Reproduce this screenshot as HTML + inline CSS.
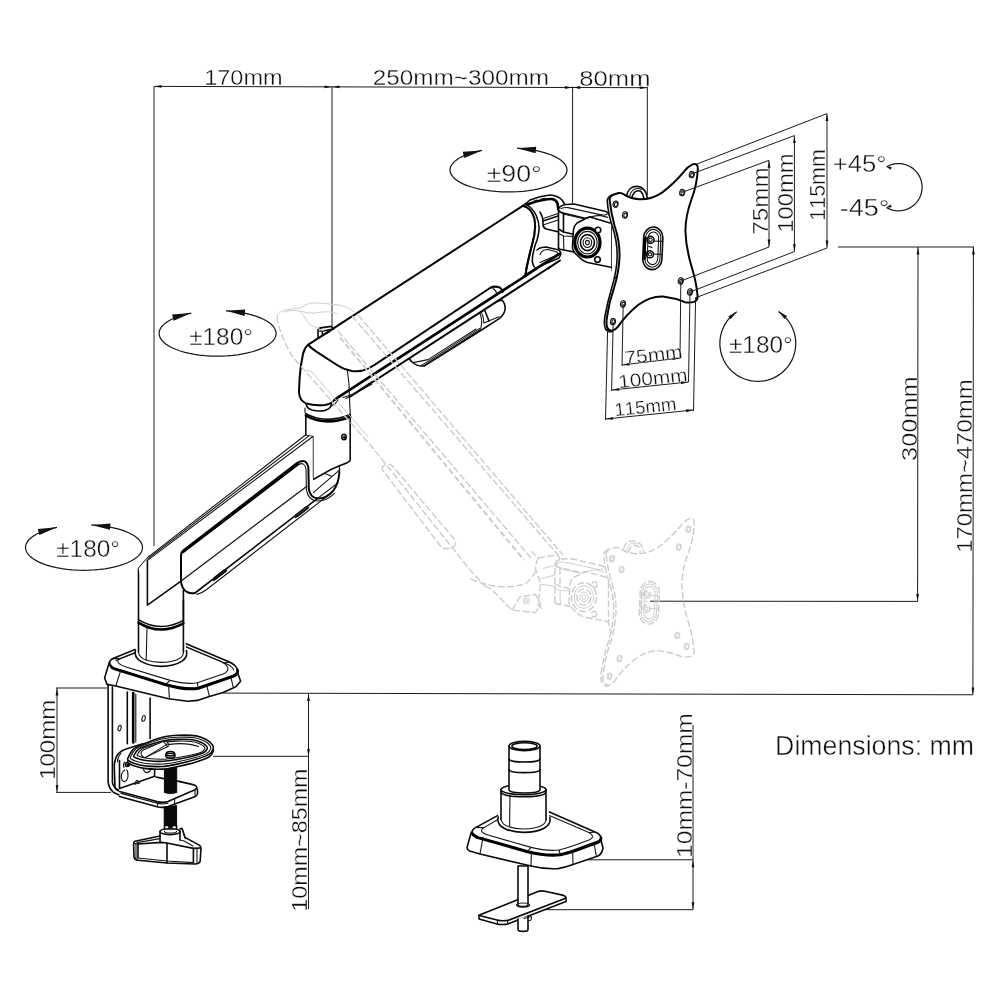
<!DOCTYPE html>
<html><head><meta charset="utf-8"><title>Monitor arm dimensions</title>
<style>
html,body{margin:0;padding:0;background:#fff;}
body{width:1000px;height:1000px;overflow:hidden;font-family:"Liberation Sans",sans-serif;}
svg{display:block;}
.o{fill:none;stroke:#0a0a0a;stroke-width:1.6;stroke-linecap:round;stroke-linejoin:round;}
.of{fill:#fff;stroke:#0a0a0a;stroke-width:1.6;stroke-linecap:round;stroke-linejoin:round;}
.t{fill:none;stroke:#151515;stroke-width:1.1;stroke-linecap:round;stroke-linejoin:round;}
.tf{fill:#fff;stroke:#151515;stroke-width:1.1;stroke-linecap:round;stroke-linejoin:round;}
.a{fill:none;stroke:#050505;stroke-width:2.0;stroke-linecap:round;stroke-linejoin:round;}
.af{fill:#fff;stroke:#050505;stroke-width:2.0;stroke-linecap:round;stroke-linejoin:round;}
.k{fill:none;stroke:#000;stroke-width:2.6;stroke-linecap:round;stroke-linejoin:round;}
.d{fill:none;stroke:#1c1c1c;stroke-width:1;}
.r{fill:none;stroke:#1a1a1a;stroke-width:1.25;}
.ah{fill:#111;stroke:none;}
.g{fill:none;stroke:#cccccc;stroke-width:1.4;stroke-dasharray:7 2.4;stroke-linecap:butt;stroke-linejoin:round;}
.gs{fill:none;stroke:#cfcfcf;stroke-width:1;stroke-linejoin:round;}
.tx{font-family:"Liberation Sans",sans-serif;fill:#111;stroke:#fff;font-kerning:none;white-space:pre;}
.f{fill:#fff;stroke:none;}
.bk{fill:#0a0a0a;stroke:#0a0a0a;stroke-width:1;}
</style></head><body>
<svg width="1000" height="1000" viewBox="0 0 1000 1000" style="will-change:transform">
<rect width="1000" height="1000" fill="#fff"/>
<path class="d" d="M154 86.4L647.3 87.7"/>
<path class="d" d="M154 86.5L154 546"/>
<path class="d" d="M332 86.5L332 326"/>
<path class="d" d="M572.6 86.5L572.6 203"/>
<path class="d" d="M647.3 86.5L647.3 195"/>
<path class="ah" d="M154.50 86.40L161.50 85.00L161.50 87.80Z"/>
<path class="ah" d="M331.50 86.90L324.50 88.30L324.50 85.50Z"/>
<path class="ah" d="M332.50 86.90L339.50 85.50L339.50 88.30Z"/>
<path class="ah" d="M572.00 87.50L565.00 88.90L565.00 86.10Z"/>
<path class="ah" d="M573.20 87.50L580.20 86.10L580.20 88.90Z"/>
<path class="ah" d="M646.80 87.70L639.80 89.10L639.80 86.30Z"/>
<text class="tx" transform="translate(206 85)" x="-1.790" y="0" font-size="21.3" textLength="78.338" lengthAdjust="spacingAndGlyphs" style="stroke-width:0.34">170mm</text>
<text class="tx" transform="translate(374 85.4)" x="-1.223" y="0" font-size="21.3" textLength="176.325" lengthAdjust="spacingAndGlyphs" style="stroke-width:0.34">250mm~300mm</text>
<text class="tx" transform="translate(580.4 85.8)" x="-1.114" y="0" font-size="21.3" textLength="71.203" lengthAdjust="spacingAndGlyphs" style="stroke-width:0.34">80mm</text>
<path class="d" d="M838 247L974 247"/>
<path class="d" d="M918 247L917.6 601.4"/>
<path class="d" d="M973.4 247L972.9 694.8"/>
<path class="d" d="M650 601.2L917.6 601.4"/>
<path class="d" d="M223 693.1L972.9 694.8"/>
<path class="ah" d="M918.00 247.50L919.40 254.50L916.60 254.50Z"/>
<path class="ah" d="M917.60 601.00L916.20 594.00L919.00 594.00Z"/>
<path class="ah" d="M973.40 247.50L974.80 254.50L972.00 254.50Z"/>
<path class="ah" d="M972.90 694.40L971.50 687.40L974.30 687.40Z"/>
<text class="tx" transform="translate(917 460) rotate(-90)" x="-0.967" y="0" font-size="21.3" textLength="84.640" lengthAdjust="spacingAndGlyphs" style="stroke-width:0.34">300mm</text>
<text class="tx" transform="translate(972 551) rotate(-90)" x="-1.821" y="0" font-size="21.3" textLength="173.397" lengthAdjust="spacingAndGlyphs" style="stroke-width:0.34">170mm~470mm</text>
<path class="d" d="M56 688L107 688"/>
<path class="d" d="M56 792.4L111 792.4"/>
<path class="d" d="M57 688L57 792.4"/>
<path class="ah" d="M57.00 688.50L58.40 695.50L55.60 695.50Z"/>
<path class="ah" d="M57.00 792.00L55.60 785.00L58.40 785.00Z"/>
<text class="tx" transform="translate(54.6 778) rotate(-90)" x="-1.825" y="0" font-size="21.3" textLength="79.905" lengthAdjust="spacingAndGlyphs" style="stroke-width:0.34">100mm</text>
<path class="d" d="M308.5 693.5L308.5 909"/>
<path class="d" d="M213 756.3L308.5 756.3"/>
<path class="ah" d="M308.50 694.00L309.90 701.00L307.10 701.00Z"/>
<path class="ah" d="M308.50 756.00L307.10 749.00L309.90 749.00Z"/>
<text class="tx" transform="translate(307 910) rotate(-90)" x="-1.778" y="0" font-size="21.3" textLength="143.316" lengthAdjust="spacingAndGlyphs" style="stroke-width:0.34">10mm~85mm</text>
<path class="d" d="M693 725L693 909.7"/>
<path class="d" d="M587 859.8L693 859.8"/>
<path class="d" d="M546 909.7L693 909.7"/>
<path class="ah" d="M693.00 860.30L694.40 867.30L691.60 867.30Z"/>
<path class="ah" d="M693.00 909.30L691.60 902.30L694.40 902.30Z"/>
<text class="tx" transform="translate(691.5 856) rotate(-90)" x="-1.869" y="0" font-size="21.3" textLength="144.486" lengthAdjust="spacingAndGlyphs" style="stroke-width:0.34">10mm-70mm</text>
<text class="tx" transform="translate(777.3 755.2)" x="-2.192" y="0" font-size="27.2" textLength="198.953" lengthAdjust="spacingAndGlyphs" style="stroke-width:0.44">Dimensions: mm</text>
<path class="r" d="M517.00 148.23L522.42 148.63L527.72 149.22L532.84 150.00L537.75 150.95L542.40 152.07L546.74 153.35L550.75 154.78L554.38 156.35L557.60 158.04L560.38 159.83L562.70 161.72L564.53 163.68L565.87 165.69L566.69 167.75L567.00 169.82L566.78 171.90L566.05 173.95L564.80 175.98L563.05 177.95L560.81 179.85L558.11 181.66L554.96 183.37L551.40 184.96L547.46 186.41L543.17 187.72L538.58 188.87L533.71 189.85L528.62 190.66L523.35 191.28L517.94 191.71L512.46 191.95L506.93 191.99L501.43 191.84L495.98 191.49L490.65 190.95L485.47 190.22L480.50 189.32L475.78 188.24L471.36 187.00L467.26 185.60L463.53 184.07L460.20 182.41L457.30 180.64L454.86 178.78L452.90 176.84L451.43 174.84L450.47 172.79L450.03 170.72L450.11 168.64L450.71 166.58L451.83 164.54L453.45 162.56L455.56 160.64L458.14 158.80L461.18 157.07L464.63 155.45L468.48 153.96L472.68 152.61L477.20 151.41L482.00 150.39" />
<path class="ah" d="M482.00 150.39L464.30 157.99L462.78 151.77Z"/>
<path class="ah" d="M517.00 148.23L536.22 146.87L535.61 153.24Z"/>
<text class="tx" transform="translate(487.5 182.4)" x="-0.849" y="0" font-size="24.2" textLength="55.157" lengthAdjust="spacingAndGlyphs" style="stroke-width:0.39">±90°</text>
<path class="r" d="M226.00 310.84L231.43 311.25L236.73 311.85L241.87 312.65L246.78 313.64L251.44 314.80L255.79 316.13L259.81 317.61L263.44 319.24L266.67 320.99L269.46 322.85L271.78 324.80L273.62 326.83L274.96 328.92L275.79 331.05L276.10 333.21L275.88 335.36L275.15 337.50L273.90 339.59L272.15 341.64L269.91 343.61L267.20 345.49L264.05 347.26L260.49 348.91L256.54 350.41L252.25 351.77L247.64 352.96L242.77 353.98L237.67 354.82L232.39 355.46L226.98 355.90L221.49 356.15L215.96 356.19L210.45 356.03L205.00 355.66L199.66 355.10L194.49 354.34L189.52 353.40L184.80 352.28L180.37 350.99L176.28 349.54L172.55 347.95L169.23 346.22L166.34 344.39L163.91 342.45L161.95 340.44L160.50 338.36L159.55 336.23L159.13 334.09L159.22 331.93L159.84 329.79L160.97 327.68L162.61 325.62L164.74 323.63L167.34 321.73L170.39 319.93L173.86 318.26L177.73 316.72L181.95 315.32L186.48 314.09L191.30 313.03" />
<path class="ah" d="M191.30 313.03L173.65 320.75L172.09 314.54Z"/>
<path class="ah" d="M226.00 310.84L245.22 309.52L244.59 315.89Z"/>
<text class="tx" transform="translate(189.9 345.1)" x="-0.774" y="0" font-size="24.5" textLength="63.839" lengthAdjust="spacingAndGlyphs" style="stroke-width:0.39">±180°</text>
<path class="r" d="M91.30 524.88L96.75 525.25L102.09 525.82L107.27 526.58L112.23 527.53L116.95 528.66L121.37 529.96L125.46 531.41L129.17 533.01L132.48 534.74L135.36 536.58L137.78 538.52L139.71 540.54L141.15 542.63L142.07 544.75L142.48 546.91L142.36 549.06L141.72 551.20L140.57 553.31L138.90 555.37L136.75 557.36L134.12 559.26L131.05 561.05L127.55 562.72L123.67 564.26L119.43 565.64L114.87 566.87L110.04 567.92L104.97 568.79L99.71 569.46L94.32 569.94L88.83 570.22L83.30 570.30L77.78 570.17L72.31 569.84L66.94 569.31L61.73 568.58L56.72 567.67L51.95 566.57L47.47 565.31L43.31 563.88L39.52 562.31L36.13 560.61L33.17 558.79L30.66 556.86L28.63 554.86L27.09 552.78L26.07 550.66L25.56 548.52L25.57 546.36L26.11 544.21L27.17 542.10L28.73 540.03L30.79 538.02L33.33 536.11L36.32 534.29L39.73 532.59L43.54 531.03L47.72 529.61L52.22 528.36L57.00 527.27" />
<path class="ah" d="M57.00 527.27L39.40 535.12L37.80 528.92Z"/>
<path class="ah" d="M91.30 524.88L110.51 523.42L109.93 529.79Z"/>
<text class="tx" transform="translate(57 556.9)" x="-0.774" y="0" font-size="24.5" textLength="63.839" lengthAdjust="spacingAndGlyphs" style="stroke-width:0.39">±180°</text>
<path class="r" d="M778.47 311.57L781.11 313.45L783.57 315.54L785.85 317.84L787.93 320.33L789.79 322.98L791.41 325.78L792.79 328.70L793.91 331.74L794.78 334.86L795.37 338.04L795.69 341.26L795.73 344.50L795.50 347.73L795.00 350.92L794.22 354.07L793.18 357.13L791.88 360.10L790.33 362.94L788.55 365.64L786.54 368.18L784.33 370.54L781.92 372.70L779.33 374.65L776.59 376.37L773.71 377.85L770.72 379.08L767.63 380.05L764.47 380.76L761.26 381.19L758.03 381.35L754.80 381.23L751.58 380.84L748.42 380.17L745.32 379.24L742.31 378.04L739.41 376.60L736.65 374.91L734.04 372.99L731.61 370.86L729.36 368.53L727.32 366.02L725.51 363.34L723.93 360.51L722.59 357.56L721.51 354.51L720.70 351.38L720.15 348.19L719.88 344.96L719.89 341.73L720.17 338.50L720.72 335.31L721.55 332.18L722.63 329.13L723.98 326.19L725.57 323.37L727.39 320.70L729.44 318.19L731.69 315.86L734.13 313.74L736.74 311.83" />
<path class="ah" d="M736.74 311.83L730.65 319.36L728.22 316.43Z"/>
<path class="ah" d="M778.47 311.57L787.05 316.07L784.66 319.03Z"/>
<text class="tx" transform="translate(729.75 352.75)" x="-0.774" y="0" font-size="24" textLength="63.839" lengthAdjust="spacingAndGlyphs" style="stroke-width:0.38">±180°</text>
<path class="r" d="M886.70 166.76L888.15 165.99L889.66 165.32L891.21 164.76L892.79 164.30L894.40 163.96L896.03 163.73L897.68 163.61L899.32 163.61L900.97 163.73L902.60 163.96L904.21 164.30L905.79 164.76L907.34 165.32L908.85 165.99L910.30 166.76L911.70 167.63L913.03 168.60L914.29 169.66L915.48 170.81L916.58 172.03L917.59 173.33L918.51 174.69L919.34 176.12L920.06 177.60L920.68 179.13L921.19 180.69L921.58 182.29L921.87 183.92L922.04 185.55L922.10 187.20L922.04 188.85L921.87 190.48L921.58 192.11L921.19 193.71L920.68 195.27L920.06 196.80L919.34 198.28L918.51 199.71L917.59 201.07L916.58 202.37L915.48 203.59L914.29 204.74L913.03 205.80L911.70 206.77L910.30 207.64L908.85 208.41L907.34 209.08L905.79 209.64L904.21 210.10L902.60 210.44L900.97 210.67L899.32 210.79L897.68 210.79L896.03 210.67L894.40 210.44L892.79 210.10L891.21 209.64L889.66 209.08L888.15 208.41L886.70 207.64" />
<path class="ah" d="M886.00 166.50L891.68 166.97L890.66 169.79Z"/>
<path class="ah" d="M886.00 207.70L890.66 204.41L891.68 207.23Z"/>
<text class="tx" transform="translate(834 172)" x="-1.253" y="0" font-size="23.5" textLength="53.794" lengthAdjust="spacingAndGlyphs" style="stroke-width:0.38">+45°</text>
<text class="tx" transform="translate(841 215.5)" x="-1.200" y="0" font-size="23.5" textLength="49.821" lengthAdjust="spacingAndGlyphs" style="stroke-width:0.38">-45°</text>
<path class="of" d="M109.4 662 L104.6 678 L107 684.4 L115.8 686 L168.6 698.8 L187.8 701.2 L197.4 700.4 L209.4 696.4 L223 692.4 L235.8 686.8 L240.6 681.2 L237.4 672 Z" />
<path class="of" d="M137.4 648.4 L113 658.6 Q108.6 660.6 110 664.6 Q111 667 114 668 L166 684 Q186 689.6 198 687.6 L233 675.4 Q238.6 673.4 237 668.6 Q235.6 665 229.4 662 L183.8 642.8" />
<path class="k" d="M110.4 665.6 Q111.4 668 114.6 669 L166 684.9 Q186 690.5 198.4 688.5 L233.6 676.3 Q238.4 674.4 237.6 670" />
<path class="t" d="M186 647 L228 664.6 Q233 667.4 233.6 670" />
<path class="t" d="M135 653 L116 660.6" />
<path class="t" d="M135 652.4 L120 658.6 Q116.4 660.2 118.6 663 Q120 664.8 125.4 666.8 L170.2 680.4 Q186 684.6 197.4 682.8 L223 674 Q228.6 671.8 227.8 667.6 Q226.6 664 221 661.4 L184.6 646" />
<path class="t" d="M120.6 670.8 L115.8 686" />
<path class="t" d="M168.6 685.2 L169.4 698.8" />
<path class="t" d="M207 686.4 L209.4 696.4" />
<path class="t" d="M231 678 L233.4 687.6" />
<path class="t" d="M113 658.6 L120 658.6" />
<path class="t" d="M229.4 662 L223 663" />
<path class="t" d="M198 687.6 L197.4 682.8" />
<path class="t" d="M166 684 L170.2 680.4" />
<path class="f" d="M135 651 Q134 657 141 661 Q150 666.4 161 666.4 Q174 666.4 182 661 Q187.6 657 186.4 651 L183.4 620 L138.4 620 Z" />
<path class="o" d="M135.4 650 Q133.6 657 141 661.4 Q150 666.4 161 666.4 Q174 666.4 182 661.2 Q188 657 186.4 650.6" />
<path class="t" d="M138.4 652 Q139 657.4 146 660 Q153 662.4 161 662.4 Q172 662.4 178.6 659 Q183.6 656.4 183.4 652" />
<path class="f" d="M138.5 652 L138.5 569 L149 556.4 L184 556 L183.6 652 Z" />
<path class="o" d="M138.5 652 L138.5 568.6 L149 556.4" />
<path class="o" d="M183.4 652 L183.4 590" />
<path class="t" d="M147 628 L146.2 660" />
<path class="o" d="M138.5 619.6 Q160 633 183.4 620.4" />
<path class="k" d="M138.5 622.6 Q160 636 183.4 623.4" />
<path class="f" d="M149 556.4 L305.8 434.8 L313.6 436 L313.6 480 L184 600 L147.4 605.2 L138.5 568.6 Z" />
<path class="t" d="M149 556.4 L305.8 434.8" />
<path class="t" d="M148.2 558.4 L309.6 435.4" />
<path class="t" d="M147.4 560.4 L313.6 436" />
<path class="o" d="M305.8 434.8 L313.6 436 L313.6 478" />
<path class="o" d="M147.4 560.4 L147.4 605.2 L181 581.2" />
<path class="f" d="M182.6 550.8 L298 462.4 Q306 458 308.2 468 L308.8 488.8 Q310 498 318 498.4 L195 593 Q191 594 187 592 Q181.6 589 181 581 L181 556 Q181 552 182.6 550.8Z" />
<path class="a" d="M181 581 L181 556 Q181 552 183.4 550.2 L297.6 462.6 Q306.4 457.6 308.4 467.6 L308.8 488.8 Q310 497.6 317.6 498.4 Q326 499 333 491 Q338.6 484 339.4 472" />
<path class="t" d="M183.4 552.6 L298.6 464.6 Q304.6 461.4 306 469 L306.4 489.6 Q308 500.4 317.6 501 Q327 501 334.4 493.4" />
<path class="k" d="M182.6 552.2 L298.4 464" style="stroke-width:2.1"/>
<path class="a" d="M181 581 Q181.6 589 187 592 Q191 594 195 593" />
<path class="o" d="M195 593 L317.6 498.4" />
<path class="t" d="M180.8 581.2 L306.6 486.4" style="stroke-width:1.3"/>
<path class="t" d="M197 594.4 Q202 593 206 590 L332 492.4" />
<path class="t" d="M214 577.6 L224 570 L225.6 571.6 L215.6 579.4Z" />
<path class="t" d="M296 514.6 L306 507 L307.6 508.6 L297.6 516.4Z" />
<path class="o" d="M213.6 580.4 L226.4 570.6" />
<path class="o" d="M295.6 517.4 L308.4 507.6" />
<path class="o" d="M183.4 622 L183.4 590.6" />
<path class="t" d="M313.6 492.4 L340 469.6" />
<path class="t" d="M317.6 498.4 L338.2 482.8" />
<path class="f" d="M305.8 434.8 L305.8 414 L350.2 414 L350.2 460 Q349 463 340 465.4 L324.4 473.2 L313.6 479.2 L313.6 436 Z" />
<path class="o" d="M305.8 434.8 L305.8 414" />
<path class="o" d="M350.2 414 L350.2 460 Q349.4 462.6 340 465.4 Q331 469 324.4 473.2 L313.6 479.2" />
<path class="t" d="M339.4 465.6 L339.4 472" />
<path class="t" d="M324.4 473.2 L331.6 476.2" />
<ellipse cx="344" cy="437" rx="2.2" ry="2.8" class="o"/>
<ellipse cx="344.4" cy="437.4" rx="0.9" ry="1.2" class="bk"/>
<path class="o" d="M305.8 413.6 Q326 424.4 350.2 414.6" />
<path class="k" d="M305.8 415.6 Q326 426.6 350.2 416.8" />
<path class="o" d="M306.4 404 Q306 408 312 410 Q318 411.6 324 410.6 Q331 409 331.4 404" />
<path class="t" d="M305 408 Q304.6 413 305.8 414" />
<path class="t" d="M331.4 406 Q336 404 338 400" />
<path class="of" d="M408.2 354.6 Q408.6 359 412 362 Q417 366.6 424 366 L479.6 331.2 L499.2 318.6 Q505 314 505.2 308 Q505 303 502 300 L470 310 Z" />
<path class="t" d="M413 362.6 L428 359.6 L476 329" />
<path class="t" d="M424 366 L430 361.6 L478 331.4" />
<path class="t" d="M427 364.4 L479.6 330" />
<path class="t" d="M421 365.6 L429.2 360.6 L479.6 328.4" />
<path class="t" d="M477 308 Q481.6 315 481.8 322 Q481.6 327 479.6 331" />
<path class="t" d="M479.4 309 Q484 316 483.8 323 L499 316.8" />
<path class="o" d="M484.6 310 L489 321" />
<path class="f" d="M308 344.8 L522.8 205.8 Q532 207 535 222 Q536 236 531 250 L526.4 272.4 L550 260 L550 267 L349.6 397 L335 399.6 Q331 404.6 324 405.4 L308 404 Q299.6 401 299 392 L300 376 Q301 356 304 350 Z" />
<path class="a" d="M522.8 205.8 L308 344.8 Q304.4 348 303 354 Q300.4 366 299.6 378 L299 392 Q299.4 400.6 306 403.4 Q314 406 325 405 Q331.6 404 335 399.4" />
<path class="a" d="M308 344.8 Q311 348 316 351.4 L337 365 Q344 369.6 352 371 Q361 372 368 368.6 L375 364.6 L490 288 Q494.6 285.6 499.6 287.4 Q502 289 502.6 292" />
<path class="t" d="M493 288.4 Q496 290 497.4 294.6" />
<path class="t" d="M347.4 371 Q349.6 384 349.4 396 L350.2 414" />
<path class="k" d="M335 399.3 L550 260" />
<path class="a" d="M349.6 397 L550 267" />
<path class="t" d="M343 397.6 L352 394.6 L372 381.4" />
<path class="t" d="M346 398.6 L372 384" />
<path class="o" d="M318 337.8 L318 330 Q318.6 328 322 327.6 L331.6 326.4 L333.6 329.2" />
<path class="o" d="M322.4 335 L322.4 331 L332.4 329.4" />
<path class="t" d="M319.6 331.4 L323 330.4 M326 334 L330 331.6" />
<path class="a" d="M522.8 205.8 Q531 207.6 534.4 218.4 Q536.6 230 532.4 243.6 Q529 256 526.4 268.8 L525.4 276" />
<path class="t" d="M526.4 204 Q536 206.6 539.6 219.6 Q541.6 231 537.2 240 Q535 248 535.4 256.8" />
<path class="f" d="M522.8 205.8 L530 200 Q540 196.4 550 195 Q557 195.4 562 200 L565 205 L565.8 256 L526 276 Q533 250 535 232 Q535 212 522.8 205.8Z" />
<path class="o" d="M522.8 205.8 L530 200 Q540 196.2 550 195 Q557.6 195.4 562 200 L564.5 204" />
<path class="k" d="M526.4 204.6 L530 203.5 Q537 201 543 200 Q548 198.8 552 199 Q556.4 200 557.6 203.6 L558.2 209" />
<path class="a" d="M522.8 205.8 Q531 207.6 534.4 218.4 Q536.6 230 532.4 243.6 Q529 256 526.4 268.8 L525.4 276" />
<path class="t" d="M533.6 201.2 L537 200 M540.4 199.2 L545 198.2" />
<path class="o" d="M526.4 204.6 Q532 207.4 536 215 Q539.6 222.6 539 230 Q538.4 236 537 240 Q534.6 246 533.4 252 Q532 258 532.4 262 L533.6 266" />
<path class="o" d="M540 212 Q542.6 216 543 221 L543 225 Q543.6 228.2 546.4 229 L559 232" />
<path class="k" d="M524 276.4 L559.4 253.8" />
<path class="a" d="M548 268.3 L560 260.5" />
<path class="o" d="M543 221 L558 216" />
<path class="t" d="M543.2 218.6 L558 213.6" />
<path class="t" d="M543 225 L558 220" />
<path class="o" d="M537 250 Q539.6 247.8 542 247.5 L546 247 L559 250 Q561.4 252.6 560.5 255 L559 258 L539 266.4" />
<path class="t" d="M540 254.4 Q541.6 251 544 250 L548 249.5 L557 252 Q558 253.6 557 255 L540 262.4" />
<path class="t" d="M533.6 266 L537 269.6" />
<path class="f" d="M558.5 210 Q559 207.4 560.4 206.4 L566 204.5 L574 204 L606 211.5 L614 216 L614 268 L584 261 L574 252 L560 249 L558.5 248 Z" />
<path class="o" d="M558.5 248.6 L558.5 210 Q558.8 207.6 560.4 206.4 Q563 204.8 566 204.5 L574 204 L606 211.5 Q608.4 212.6 608.4 214.6" />
<path class="o" d="M558.6 210.4 Q559.4 212.4 563 213 L586 218.5 L590 217" />
<path class="t" d="M561 208.6 Q564 207.4 568 207.6 L600 214.6 Q604 215.6 606.6 214.4" />
<path class="t" d="M563 214 L584 218.8" />
<path class="t" d="M590 217 Q596 215.4 600 215.4 L607.6 217.4" />
<path class="o" d="M563.5 213.5 L563.5 232" />
<path class="o" d="M558.5 229 L563.5 232 L572.4 234" />
<path class="t" d="M558.5 233.6 L563.5 236 L572.4 236.4" />
<path class="o" d="M558.6 248 Q559 249.2 560 249.2 L574 252" />
<path class="t" d="M563.5 236 L563.8 249.6" />
<path class="o" d="M610 223 L590 217 Q587 216.8 584 219.5 L577 223 Q574 225.6 573.4 230 L572.5 247 Q572.6 251.6 577 255 Q580 258.4 584 261 Q586.4 262.4 590 263 L612 267.5" />
<ellipse cx="587.4" cy="242.6" rx="12.6" ry="14.4" class="k" style="fill:#fff;stroke-width:3.2"/>
<ellipse cx="587.4" cy="242.6" rx="9.8" ry="11.2" class="t"/>
<ellipse cx="587.4" cy="242.6" rx="7" ry="8" class="o"/>
<ellipse cx="587.4" cy="242.6" rx="4.3" ry="4.9" class="t"/>
<ellipse cx="587.4" cy="242.6" rx="1.9" ry="2.2" class="t"/>
<circle cx="598" cy="230" r="2.8" class="of"/>
<circle cx="597.5" cy="259.6" r="2.8" class="of"/>
<path class="o" d="M612 227 L612 268 L613.5 276 L616 278" />
<path class="o" d="M627 194.6 Q628 189.6 632 187.4 Q636.6 185.4 641 187.2 Q645.6 190 646.6 195 L647.4 198.4" />
<path class="o" d="M631.8 198.2 Q632.6 193.6 635.4 191.6 Q638.6 189.8 641 191.6 Q643.4 194 643.8 198.4" />
<path class="t" d="M629.6 196.6 Q630.6 191.6 634 189.4 Q638 187.6 641.4 189.4" />
<g id="plateg">
<path class="of" d="M612 195 Q608.2 196.4 607.2 200 Q608 214 612.6 227 Q617.2 241 617.2 256 Q616.8 271 612 287 Q607.4 302 604.8 317 Q603.6 325 605.6 329 Q607.8 332.4 612 331.6" />
<path class="af" d="M609.6 199.6 Q609.8 196.4 612.4 195 L618.8 193 Q621.6 192.6 624 194.4 Q630 198.6 639 199.2 Q652 199.6 662 192.6 Q674 183.6 684 171.6 Q688 166.4 692 164.6 Q694.6 163.6 696.6 164.6 Q698 165.6 697.8 169 Q697 185 691.6 199 Q685.4 216 685.4 231 Q685.8 247 691.4 266 Q696.4 282 697.6 296 Q697.8 300 694.6 301.6 Q690 303.2 685 302.2 Q674 297.6 663 296.4 Q650 296 638 305 Q626 315 618 326.6 Q615.6 329.6 612.6 330.6 Q609 331 607.4 328 Q605.8 324 607 317 Q609 302 614 288 Q619 272 619.6 256 Q619.6 240 614.6 226 Q611 213 609.6 199.6Z" />
<ellipse cx="615.6" cy="204.2" rx="2.5" ry="3.2" class="t" transform="rotate(12 615.6 204.2)"/>
<ellipse cx="616.0" cy="204.39999999999998" rx="1.5" ry="2.1" class="t" transform="rotate(12 615.6 204.2)"/>
<ellipse cx="625.0" cy="215" rx="2.5" ry="3.2" class="t" transform="rotate(12 625.0 215)"/>
<ellipse cx="625.4" cy="215.2" rx="1.5" ry="2.1" class="t" transform="rotate(12 625.0 215)"/>
<ellipse cx="691.8" cy="174.6" rx="2.5" ry="3.2" class="t" transform="rotate(12 691.8 174.6)"/>
<ellipse cx="692.1999999999999" cy="174.79999999999998" rx="1.5" ry="2.1" class="t" transform="rotate(12 691.8 174.6)"/>
<ellipse cx="682.2" cy="192.6" rx="2.5" ry="3.2" class="t" transform="rotate(12 682.2 192.6)"/>
<ellipse cx="682.6" cy="192.79999999999998" rx="1.5" ry="2.1" class="t" transform="rotate(12 682.2 192.6)"/>
<ellipse cx="680.8" cy="281" rx="2.5" ry="3.2" class="t" transform="rotate(12 680.8 281)"/>
<ellipse cx="681.1999999999999" cy="281.2" rx="1.5" ry="2.1" class="t" transform="rotate(12 680.8 281)"/>
<ellipse cx="690" cy="292" rx="2.5" ry="3.2" class="t" transform="rotate(12 690 292)"/>
<ellipse cx="690.4" cy="292.2" rx="1.5" ry="2.1" class="t" transform="rotate(12 690 292)"/>
<ellipse cx="623" cy="304" rx="2.5" ry="3.2" class="t" transform="rotate(12 623 304)"/>
<ellipse cx="623.4" cy="304.2" rx="1.5" ry="2.1" class="t" transform="rotate(12 623 304)"/>
<ellipse cx="613" cy="321.6" rx="2.5" ry="3.2" class="t" transform="rotate(12 613 321.6)"/>
<ellipse cx="613.4" cy="321.8" rx="1.5" ry="2.1" class="t" transform="rotate(12 613 321.6)"/>
<g transform="rotate(2.5 652.8 248.3)">
<rect x="643.2" y="227" width="19.2" height="42.6" rx="9.6" ry="10.6" class="o"/>
<rect x="645.2" y="229.4" width="15.2" height="37.8" rx="7.6" ry="8.6" class="t"/>
<rect x="647.6" y="232" width="10.6" height="32.6" rx="5.3" ry="6.3" class="t"/>
<path class="k" d="M645 238 Q644.2 248 645 259"/>
<circle cx="650.2" cy="240" r="3.5" class="o"/><circle cx="650.2" cy="240" r="1.7" class="t"/>
<circle cx="650.2" cy="254.4" r="3.5" class="o"/><circle cx="650.2" cy="254.4" r="1.7" class="t"/>
<path class="t" d="M653.6 241 L661.6 241 M653.6 254 L661.6 254 M648.6 246.6 L652 247.4"/>
</g>
</g>
<path class="d" d="M697 164L827 113.6"/>
<path class="d" d="M695 298L827 248"/>
<path class="d" d="M827 113.6L827 248"/>
<path class="d" d="M691.6 174L794.4 135.6"/>
<path class="d" d="M690 292L794.4 251.6"/>
<path class="d" d="M794.4 135.6L794.4 251.6"/>
<path class="d" d="M682 192.4L769 160.4"/>
<path class="d" d="M681 281L769 247"/>
<path class="d" d="M769 160.4L769 247"/>
<path class="ah" d="M827.00 114.00L828.40 121.00L825.60 121.00Z"/>
<path class="ah" d="M827.00 247.60L825.60 240.60L828.40 240.60Z"/>
<path class="ah" d="M794.40 136.00L795.80 143.00L793.00 143.00Z"/>
<path class="ah" d="M794.40 251.20L793.00 244.20L795.80 244.20Z"/>
<path class="ah" d="M769.00 160.80L770.40 167.80L767.60 167.80Z"/>
<path class="ah" d="M769.00 246.60L767.60 239.60L770.40 239.60Z"/>
<text class="tx" transform="translate(767.6 233.4) rotate(-90)" x="-1.241" y="0" font-size="21.6" textLength="67.236" lengthAdjust="spacingAndGlyphs" style="stroke-width:0.35">75mm</text>
<text class="tx" transform="translate(793.1 231) rotate(-90)" x="-1.813" y="0" font-size="21.6" textLength="79.383" lengthAdjust="spacingAndGlyphs" style="stroke-width:0.35">100mm</text>
<text class="tx" transform="translate(825.4 219) rotate(-90)" x="-1.632" y="0" font-size="21.6" textLength="71.444" lengthAdjust="spacingAndGlyphs" style="stroke-width:0.35">115mm</text>
<path class="d" d="M607.6 330L605.5 420"/>
<path class="d" d="M695.6 298L693.5 411"/>
<path class="d" d="M605.5 419L693.5 410"/>
<path class="d" d="M613.2 322L611.6 391"/>
<path class="d" d="M690 292L688.5 382"/>
<path class="d" d="M611.6 390L688.5 382"/>
<path class="d" d="M623.2 304L622 366"/>
<path class="d" d="M680.8 281L680 358.5"/>
<path class="d" d="M622 365L680 358"/>
<path class="ah" d="M605.80 419.00L605.65 417.41L605.97 420.59Z"/>
<path class="ah" d="M605.90 419.00L612.72 416.90L613.01 419.69Z"/>
<path class="ah" d="M693.10 410.05L686.28 412.15L685.99 409.36Z"/>
<path class="ah" d="M612.00 390.00L618.82 387.89L619.11 390.67Z"/>
<path class="ah" d="M688.10 382.05L681.28 384.16L680.99 381.38Z"/>
<path class="ah" d="M622.40 365.00L629.18 362.76L629.52 365.54Z"/>
<path class="ah" d="M679.60 358.05L672.82 360.29L672.48 357.51Z"/>
<text class="tx" transform="translate(626.4 364.2) rotate(-6.5)" x="-1.069" y="0" font-size="18.5" textLength="57.944" lengthAdjust="spacingAndGlyphs" style="stroke-width:0.3">75mm</text>
<text class="tx" transform="translate(620.6 388.2) rotate(-6.2)" x="-1.587" y="0" font-size="18.5" textLength="69.460" lengthAdjust="spacingAndGlyphs" style="stroke-width:0.3">100mm</text>
<text class="tx" transform="translate(616.6 416.2) rotate(-6)" x="-1.420" y="0" font-size="18.5" textLength="62.148" lengthAdjust="spacingAndGlyphs" style="stroke-width:0.3">115mm</text>
<path class="f" d="M108.1 686 L108.1 781.4 Q108.6 788 113 791.8 Q116 794 119.5 794.6 L119.5 791 L150.1 776 L150.1 700 L120 690 Z" />
<path class="o" d="M108.1 685 L108.1 781.4 Q108.6 788 113 791.8 Q116 794 119.5 795" />
<path class="o" d="M112.4 687 L112.4 782.7 Q113.4 787.6 118.2 790" />
<path class="o" d="M127.3 692 L127.3 743.7" />
<path class="k" d="M133.2 693 L133.2 742.4" />
<path class="t" d="M135.8 694 L135.8 742" />
<path class="o" d="M150.1 698 L150.1 738.5" />
<ellipse cx="119.6" cy="728.1" rx="1.5" ry="2.8" class="t" transform="rotate(14 119.6 728.1)"/>
<ellipse cx="143.6" cy="718.4" rx="1.6" ry="2.9" class="t" transform="rotate(14 143.6 718.4)"/>
<path class="o" d="M142.9 743.7 L126 748.9 Q118.6 751.6 116.4 756.6 Q114.4 761 114.3 766 L115 787.9 Q115.6 790 118.2 790.6" />
<path class="o" d="M119.5 760.6 L119.5 788.4 L154.6 776.2 L154.6 768.4" />
<path class="t" d="M121 753 Q117.6 757 117.4 762" />
<circle cx="127.3" cy="764.5" r="2" class="o"/><circle cx="127.6" cy="764.7" r="0.9" class="bk"/>
<path class="t" d="M124.6 762 Q122.6 764.6 124 767.4" />
<path class="t" d="M124.8 770 Q121.4 772 121.4 777 Q121.6 781.6 124.4 781.6 Q127.6 781 128 776 Q128.2 771.4 126.6 769.8" />
<path class="t" d="M143.4 768.6 Q144 772.6 147 772.6 Q150.4 772 150.6 768.4" />
<path class="t" d="M134.5 784.2 Q135.6 781.4 137 780.2 Q139 781.4 140.3 783.6 Q137.4 783.2 134.5 784.2Z" />
<path class="f" d="M119.5 791.6 L155.9 777 L180 782 L194.6 785.4 Q198 787.4 197.5 789.4 L197.5 794 Q197 795.6 195.4 796.4 L168 806.6 Q162 808 158 807 L119.5 796.4 Z" />
<path class="o" d="M119.5 791.4 L157 801.6 Q162.4 802.8 168 801.6 L194.4 790 Q197.6 788.2 196.6 786.6 Q195.4 785.2 192 784.4 L180 781.6" />
<path class="o" d="M155.9 777 L163.6 778.6" />
<path class="o" d="M177.2 781 L180 781.6" />
<path class="o" d="M119.5 796.4 L158 807 Q162.4 808 168 806.6 L195.4 796.4 Q197.6 795.4 197.5 793.4 L197.5 789" />
<path class="t" d="M157.6 801.6 L157.6 806.8" />
<path class="t" d="M174.6 799.4 L174.6 804.2" />
<path class="t" d="M195 790 L195 796.4" />
<path class="t" d="M121 793.4 L158 803.4 Q162.4 804.4 168 803.2" />
<path class="bk" d="M164.4 762 L176.7 762 L176.7 792.6 Q170.6 794.6 164.4 792.6 Z" />
<path class="bk" d="M164.2 807.2 L176.6 805.6 L176.6 825.6 L164.2 825.6 Z" />
<path class="of" d="M128.00 760.60C128.87 758.65 131.10 753.88 133.80 751.50C136.50 749.12 139.43 748.25 144.20 746.30C148.97 744.35 156.77 741.20 162.40 739.80C168.03 738.40 172.37 738.12 178.00 737.90C183.63 737.68 191.43 737.75 196.20 738.50C200.97 739.25 203.88 740.88 206.60 742.40C209.32 743.92 211.42 746.08 212.50 747.60C213.58 749.12 213.65 749.98 213.10 751.50C212.55 753.02 212.02 754.97 209.20 756.70C206.38 758.43 201.40 760.27 196.20 761.90C191.00 763.53 183.63 765.30 178.00 766.50C172.37 767.70 168.03 768.78 162.40 769.10C156.77 769.42 148.97 768.95 144.20 768.40C139.43 767.85 136.40 766.67 133.80 765.80C131.20 764.93 129.57 764.07 128.60 763.20C127.63 762.33 127.13 762.55 128.00 760.60Z" />
<path class="of" d="M128.00 758.00C128.87 756.05 131.10 751.28 133.80 748.90C136.50 746.52 139.43 745.65 144.20 743.70C148.97 741.75 156.77 738.60 162.40 737.20C168.03 735.80 172.37 735.52 178.00 735.30C183.63 735.08 191.43 735.15 196.20 735.90C200.97 736.65 203.88 738.28 206.60 739.80C209.32 741.32 211.42 743.48 212.50 745.00C213.58 746.52 213.65 747.38 213.10 748.90C212.55 750.42 212.02 752.37 209.20 754.10C206.38 755.83 201.40 757.67 196.20 759.30C191.00 760.93 183.63 762.70 178.00 763.90C172.37 765.10 168.03 766.18 162.40 766.50C156.77 766.82 148.97 766.35 144.20 765.80C139.43 765.25 136.40 764.07 133.80 763.20C131.20 762.33 129.57 761.47 128.60 760.60C127.63 759.73 127.13 759.95 128.00 758.00Z" />
<path class="t" d="M130.55 756.72C131.36 755.04 133.46 750.94 136.00 748.89C138.54 746.84 141.30 746.10 145.78 744.42C150.26 742.75 157.59 740.04 162.89 738.83C168.18 737.63 172.25 737.38 177.55 737.20C182.85 737.01 190.18 737.07 194.66 737.71C199.14 738.36 201.88 739.76 204.43 741.07C206.99 742.37 208.96 744.24 209.98 745.54C211.00 746.84 211.06 747.59 210.54 748.89C210.03 750.20 209.53 751.88 206.88 753.37C204.23 754.86 199.55 756.43 194.66 757.84C189.77 759.24 182.85 760.76 177.55 761.79C172.25 762.83 168.18 763.76 162.89 764.03C157.59 764.30 150.26 763.90 145.78 763.43C141.30 762.96 138.45 761.94 136.00 761.19C133.56 760.45 132.02 759.70 131.11 758.96C130.21 758.21 129.74 758.40 130.55 756.72Z" />
<path class="o" d="M133.95 755.30C134.70 753.93 136.62 750.60 138.94 748.93C141.26 747.26 143.78 746.65 147.88 745.29C151.98 743.92 158.69 741.72 163.53 740.74C168.38 739.76 172.11 739.56 176.95 739.41C181.79 739.26 188.50 739.30 192.60 739.83C196.70 740.35 199.21 741.50 201.55 742.56C203.88 743.62 205.69 745.14 206.62 746.20C207.55 747.26 207.61 747.87 207.14 748.93C206.66 749.99 206.20 751.36 203.78 752.57C201.36 753.78 197.07 755.07 192.60 756.21C188.13 757.35 181.79 758.59 176.95 759.43C172.11 760.27 168.38 761.03 163.53 761.25C158.69 761.47 151.98 761.14 147.88 760.76C143.78 760.38 141.17 759.55 138.94 758.94C136.70 758.33 135.30 757.73 134.47 757.12C133.63 756.51 133.20 756.66 133.95 755.30Z" />
<path class="t" d="M137.43 754.26C138.11 753.13 139.87 750.36 142.01 748.98C144.14 747.60 146.46 747.10 150.22 745.97C153.99 744.84 160.15 743.01 164.60 742.20C169.05 741.38 172.47 741.22 176.93 741.09C181.38 740.97 187.54 741.01 191.30 741.44C195.07 741.88 197.37 742.82 199.52 743.70C201.67 744.58 203.32 745.84 204.18 746.72C205.04 747.60 205.09 748.10 204.65 748.98C204.22 749.86 203.80 750.99 201.57 752.00C199.35 753.00 195.41 754.07 191.30 755.01C187.19 755.96 181.38 756.99 176.93 757.68C172.47 758.38 169.05 759.01 164.60 759.19C160.15 759.37 153.99 759.10 150.22 758.78C146.46 758.47 144.06 757.78 142.01 757.28C139.95 756.77 138.66 756.27 137.90 755.77C137.14 755.27 136.74 755.39 137.43 754.26Z" />
<path class="tf" d="M141.8 755.6 Q139.6 752.4 143.4 750 L163 741.4 Q167 740.4 168.4 743.4 L145.4 757.6 Q143 757.6 141.8 755.6Z" />
<path class="t" d="M163 741.4 Q166.4 744 167.4 746.6" />
<path class="t" d="M146.4 757 L168.8 746" />
<path class="t" d="M168 744.6 Q186 742 198.6 746.6" />
<ellipse cx="170.4" cy="755.4" rx="4.6" ry="2.6" class="of"/>
<ellipse cx="170.4" cy="753.8" rx="4.2" ry="2.2" class="of"/>
<path class="t" d="M167 753.6 L173.8 753.6" />
<path class="of" d="M164.5 825.5 L176.5 825.5 L176.5 833 L164.5 833Z" />
<path class="bk" d="M168.4 825.5 L168.4 827.4 L172.6 827.4 L172.6 825.5" />
<path class="f" d="M160 831.6 L160 838 L135 841.4 L133.6 843 L134 857 Q134.6 859.6 138 860.2 L167 863 L195 864 Q199.4 863.6 200.2 861 L201 848 Q200.8 846.4 199.6 845.4 L185 837.2 L182 828.2 L180 829 L180 831.6 Z" />
<path class="o" d="M160 831.6 Q160 834.4 170 834.6 Q180 834.4 180 831.6 Q180 829 170 828.8 Q160 829 160 831.6Z" style="fill:#fff"/>
<path class="t" d="M164.5 831.4 Q164.5 833 170.5 833 Q176.5 833 176.5 831.4" />
<path class="o" d="M160 831.6 L160 842.6" />
<path class="o" d="M180 831.6 L180 840" />
<path class="o" d="M160 836 L135 841.2 Q133.4 842 133.6 844 L134 857 Q134.6 859.8 138 860.2 L167 863 L195 864 Q199.6 863.6 200.2 861 L201 848 Q200.8 846.4 199.6 845.4 L185 837.4 L182 828.2 L180 829" />
<path class="t" d="M137 842.6 L160 838.6" />
<path class="o" d="M138 844 L161 842.4 L167 843" />
<path class="o" d="M138 844 L138 858" />
<path class="t" d="M134.6 843.6 L138 844" />
<path class="t" d="M136 843.8 L136 858.6" />
<path class="o" d="M167 843 L167 863" />
<path class="o" d="M168 843.2 L193.4 848.4 L200.6 848" />
<path class="o" d="M193.4 848.4 L193.4 862.6" />
<path class="t" d="M197 848.4 L197 862" />
<path class="t" d="M138 858 L167 861 L193.4 862.6" />
<path class="t" d="M180 840 L184 841 L193 846" />
<path class="t" d="M183 831.4 L185.4 838.8" />
<path class="f" d="M479 915 L540 891 Q543 890.4 546 891 L564 895.4 Q566.6 896.4 566 898.6 L566 901 L507 924 L497 924 L479 919 Z" />
<path class="o" d="M479.4 915 L538 891.6 Q541.6 890.4 545 891.2 L563.6 895.4 Q566.8 896.6 565 898.6 L508 920.4 Q502 921.4 497 920 L480.4 915.8 Q478.6 915.4 479.4 915Z" />
<path class="o" d="M479 915.4 L479 919 L497 924 Q502 925 507.6 924 L566 901.4 L566 897.6" />
<path class="t" d="M497.4 920.2 L497.4 924" />
<path class="t" d="M507.6 920.6 L507.6 924" />
<path class="of" d="M518 919 L518 929.6 Q518.2 931.4 523 931.4 Q527.8 931.4 528 929.6 L528 916" />
<path class="t" d="M524 918.6 L531 916.4 Q532 918 531 920 L528 921" />
<path class="of" d="M518 866 L518 905 Q518.4 906.6 523 906.6 Q527.6 906.6 528 905 L528 866 Z" />
<ellipse cx="523" cy="905" rx="6.6" ry="2" class="t"/>
<path class="f" d="M472 830.6 L467 850 L480 854 L531 866 L558 868.6 L573 864.4 L598 856 L603 848 L600 839.6 Z" />
<path class="o" d="M471.4 832 L467.4 846 Q466.4 849.6 469.6 851 L480 854 L531 866 Q545 869.4 558 868.6 Q566 867 573 864.4 L598 856 Q602 854 603 848 L600.6 839" />
<path class="of" d="M498 815.4 L476 827.4 Q470.6 830.2 473 833.6 Q474.6 835.6 479 837.2 L528 851 Q546 855.6 560 854 Q568 852.4 574 850 L597 841.6 Q602 839.4 600.4 836 Q599 833.4 595 832 L546 810.4" />
<path class="k" d="M472.6 834.2 Q474 836.4 478.6 838 L527.6 852 Q546 856.6 560.4 855 Q568 853.4 574.6 851 L598 842.6 Q601.4 840.8 601 837.6" />
<path class="t" d="M497 820 L484 827.6 Q480 829.8 482.6 832.4 Q484 833.8 488 835 L531 847.4 Q547 851.4 559 850 Q566 848.6 571 846.6 L589 840 Q593.6 838 592 835 Q590.6 833 586.6 831.4 L547 814.4" />
<path class="t" d="M483 837.4 L480 854" />
<path class="t" d="M531.4 852 L531 866" />
<path class="t" d="M572.6 850.6 L573 864.4" />
<path class="t" d="M594 843 L596.4 856.4" />
<path class="t" d="M476 827.4 L484 827.6" />
<path class="t" d="M595 832 L589.6 832.6" />
<path class="t" d="M560 854 L559 850" />
<path class="t" d="M528 851 L531 847.4" />
<path class="f" d="M498 818 Q497 824 504 828 Q512 832.4 523.6 832.4 Q536 832.4 544 828 Q551 824 549.6 818 L546 790 L501 790 Z" />
<path class="o" d="M498.2 817 Q496.4 824 504 828.2 Q512 832.4 523.6 832.4 Q536 832.4 544 828.2 Q551.4 824 549.8 817.4" />
<path class="t" d="M501 819 Q501.6 824 508 826.6 Q515 829 523.6 829 Q534 829 540.6 826 Q546.4 823.4 546.2 819" />
<path class="f" d="M501 820 L501 790 Q501 786 523.5 786 Q546 786 546 790 L546 820" />
<path class="o" d="M501 819.6 L501 789.6" />
<path class="o" d="M546 819.6 L546 789.6" />
<path class="t" d="M510 795 L509.6 826" />
<ellipse cx="523.5" cy="789.6" rx="22.5" ry="5.2" class="of"/>
<path class="o" d="M501 791.6 Q501 796.8 523.5 796.8 Q546 796.8 546 791.6" />
<path class="f" d="M509 790 L509 746 L540 746 L540 790 Q540 793.6 524.5 793.6 Q509 793.6 509 790Z" />
<path class="o" d="M509 746 L509 789.6 Q509.4 793 524.5 793 Q539.6 793 540 789.6 L540 746" />
<path class="o" d="M509 759 Q509.6 762 524.5 762 Q539.4 762 540 759" />
<path class="o" d="M509 769.6 Q509.6 772.6 524.5 772.6 Q539.4 772.6 540 769.6" />
<ellipse cx="524.5" cy="746" rx="15.5" ry="4.6" class="of"/>
<ellipse cx="524.5" cy="746.2" rx="12.6" ry="3.4" class="o"/>
<g id="ghost">
<g transform="translate(-3.5 354.5)"><path class="g" d="M558.5 248.6 L558.5 210 Q558.8 207.6 560.4 206.4 Q563 204.8 566 204.5 L574 204 L606 211.5 Q608.4 212.6 608.4 214.6" />
<path class="g" d="M558.6 210.4 Q559.4 212.4 563 213 L586 218.5 L590 217" />
<path class="gs" d="M561 208.6 Q564 207.4 568 207.6 L600 214.6 Q604 215.6 606.6 214.4" />
<path class="gs" d="M563 214 L584 218.8" />
<path class="gs" d="M590 217 Q596 215.4 600 215.4 L607.6 217.4" />
<path class="g" d="M563.5 213.5 L563.5 232" />
<path class="g" d="M558.5 229 L563.5 232 L572.4 234" />
<path class="gs" d="M558.5 233.6 L563.5 236 L572.4 236.4" />
<path class="g" d="M558.6 248 Q559 249.2 560 249.2 L574 252" />
<path class="gs" d="M563.5 236 L563.8 249.6" />
<path class="g" d="M610 223 L590 217 Q587 216.8 584 219.5 L577 223 Q574 225.6 573.4 230 L572.5 247 Q572.6 251.6 577 255 Q580 258.4 584 261 Q586.4 262.4 590 263 L612 267.5" />
<ellipse cx="587.4" cy="242.6" rx="12.6" ry="14.4" class="g"/>
<ellipse cx="587.4" cy="242.6" rx="9.8" ry="11.2" class="gs"/>
<ellipse cx="587.4" cy="242.6" rx="7" ry="8" class="g"/>
<ellipse cx="587.4" cy="242.6" rx="4.3" ry="4.9" class="gs"/>
<ellipse cx="587.4" cy="242.6" rx="1.9" ry="2.2" class="gs"/>
<circle cx="598" cy="230" r="2.8" class="g"/>
<circle cx="597.5" cy="259.6" r="2.8" class="g"/>
<path class="g" d="M612 227 L612 268 L613.5 276 L616 278" />
<path class="g" d="M627 194.6 Q628 189.6 632 187.4 Q636.6 185.4 641 187.2 Q645.6 190 646.6 195 L647.4 198.4" />
<path class="g" d="M631.8 198.2 Q632.6 193.6 635.4 191.6 Q638.6 189.8 641 191.6 Q643.4 194 643.8 198.4" />
<path class="gs" d="M629.6 196.6 Q630.6 191.6 634 189.4 Q638 187.6 641.4 189.4" />
<g>
<path class="g" d="M612 195 Q608.2 196.4 607.2 200 Q608 214 612.6 227 Q617.2 241 617.2 256 Q616.8 271 612 287 Q607.4 302 604.8 317 Q603.6 325 605.6 329 Q607.8 332.4 612 331.6" />
<path class="g" d="M609.6 199.6 Q609.8 196.4 612.4 195 L618.8 193 Q621.6 192.6 624 194.4 Q630 198.6 639 199.2 Q652 199.6 662 192.6 Q674 183.6 684 171.6 Q688 166.4 692 164.6 Q694.6 163.6 696.6 164.6 Q698 165.6 697.8 169 Q697 185 691.6 199 Q685.4 216 685.4 231 Q685.8 247 691.4 266 Q696.4 282 697.6 296 Q697.8 300 694.6 301.6 Q690 303.2 685 302.2 Q674 297.6 663 296.4 Q650 296 638 305 Q626 315 618 326.6 Q615.6 329.6 612.6 330.6 Q609 331 607.4 328 Q605.8 324 607 317 Q609 302 614 288 Q619 272 619.6 256 Q619.6 240 614.6 226 Q611 213 609.6 199.6Z" />
<ellipse cx="615.6" cy="204.2" rx="2.5" ry="3.2" class="gs" transform="rotate(12 615.6 204.2)"/>
<ellipse cx="616.0" cy="204.39999999999998" rx="1.5" ry="2.1" class="gs" transform="rotate(12 615.6 204.2)"/>
<ellipse cx="625.0" cy="215" rx="2.5" ry="3.2" class="gs" transform="rotate(12 625.0 215)"/>
<ellipse cx="625.4" cy="215.2" rx="1.5" ry="2.1" class="gs" transform="rotate(12 625.0 215)"/>
<ellipse cx="691.8" cy="174.6" rx="2.5" ry="3.2" class="gs" transform="rotate(12 691.8 174.6)"/>
<ellipse cx="692.1999999999999" cy="174.79999999999998" rx="1.5" ry="2.1" class="gs" transform="rotate(12 691.8 174.6)"/>
<ellipse cx="682.2" cy="192.6" rx="2.5" ry="3.2" class="gs" transform="rotate(12 682.2 192.6)"/>
<ellipse cx="682.6" cy="192.79999999999998" rx="1.5" ry="2.1" class="gs" transform="rotate(12 682.2 192.6)"/>
<ellipse cx="680.8" cy="281" rx="2.5" ry="3.2" class="gs" transform="rotate(12 680.8 281)"/>
<ellipse cx="681.1999999999999" cy="281.2" rx="1.5" ry="2.1" class="gs" transform="rotate(12 680.8 281)"/>
<ellipse cx="690" cy="292" rx="2.5" ry="3.2" class="gs" transform="rotate(12 690 292)"/>
<ellipse cx="690.4" cy="292.2" rx="1.5" ry="2.1" class="gs" transform="rotate(12 690 292)"/>
<ellipse cx="623" cy="304" rx="2.5" ry="3.2" class="gs" transform="rotate(12 623 304)"/>
<ellipse cx="623.4" cy="304.2" rx="1.5" ry="2.1" class="gs" transform="rotate(12 623 304)"/>
<ellipse cx="613" cy="321.6" rx="2.5" ry="3.2" class="gs" transform="rotate(12 613 321.6)"/>
<ellipse cx="613.4" cy="321.8" rx="1.5" ry="2.1" class="gs" transform="rotate(12 613 321.6)"/>
<g transform="rotate(2.5 652.8 248.3)">
<rect x="643.2" y="227" width="19.2" height="42.6" rx="9.6" ry="10.6" class="g"/>
<rect x="645.2" y="229.4" width="15.2" height="37.8" rx="7.6" ry="8.6" class="gs"/>
<rect x="647.6" y="232" width="10.6" height="32.6" rx="5.3" ry="6.3" class="gs"/>
<path class="g" d="M645 238 Q644.2 248 645 259"/>
<circle cx="650.2" cy="240" r="3.5" class="g"/><circle cx="650.2" cy="240" r="1.7" class="gs"/>
<circle cx="650.2" cy="254.4" r="3.5" class="g"/><circle cx="650.2" cy="254.4" r="1.7" class="gs"/>
<path class="gs" d="M653.6 241 L661.6 241 M653.6 254 L661.6 254 M648.6 246.6 L652 247.4"/>
</g>
</g></g>
<path class="g" d="M352 316 L558.8 556" />
<path class="g" d="M358 315 L563 555" />
<path class="g" d="M338 331 L531 558" />
<path class="g" d="M340 337.4 L524 560" style="stroke-width:2;stroke-dasharray:6 3"/>
<path class="g" d="M277 316 Q277.6 324 280 330 Q285 344 292 356 L372.5 447.5 L470 570 L485 586" />
<path class="gs" d="M306 370 L312 372 L368 437" />
<path class="gs" d="M277 316 Q279 311.6 284 310 L300 308 Q305 304.6 310 303 Q320 302.6 330 304 Q340 304.6 346 307 Q351 309 354 312" />
<path class="gs" d="M284 312 Q292 309 300 311 Q308 314 316 313 Q330 310 338 314" />
<path class="gs" d="M300 311 L310 325 L324 331" />
<path class="g" d="M382.5 470 Q381.6 465.6 386 464.6 Q390 463.6 392.5 466 L455 540 Q457 544.6 453 547 Q448 549.4 442 548 Z" />
<path class="g" d="M470.4 578.8 Q486 585.6 499 586.6 Q514 587.4 525 584 Q532 579 535.4 571" />
<path class="g" d="M485 586 L491.2 589.2 L512 610 L535.4 612.6" />
<path class="g" d="M512 610 L519.8 597 L535.4 594.4 L540.6 604.8 L535.4 612.6" />
<circle cx="526.3" cy="600.9" r="3" class="gs"/><circle cx="526.3" cy="600.9" r="1.4" class="gs"/>
<path class="g" d="M531 551 L538 558 Q536 563 535.4 568.4 L540.6 584 L538 604.8 L543 610" />
<path class="g" d="M538 558 L553.6 555.4 Q558 555.6 560 558 L556 565.8" />
<path class="gs" d="M543 568.4 L553.6 565.8 M540.6 578.8 L555 575 M540.6 584 L556.2 586.6" />
</g>
</svg></body></html>
